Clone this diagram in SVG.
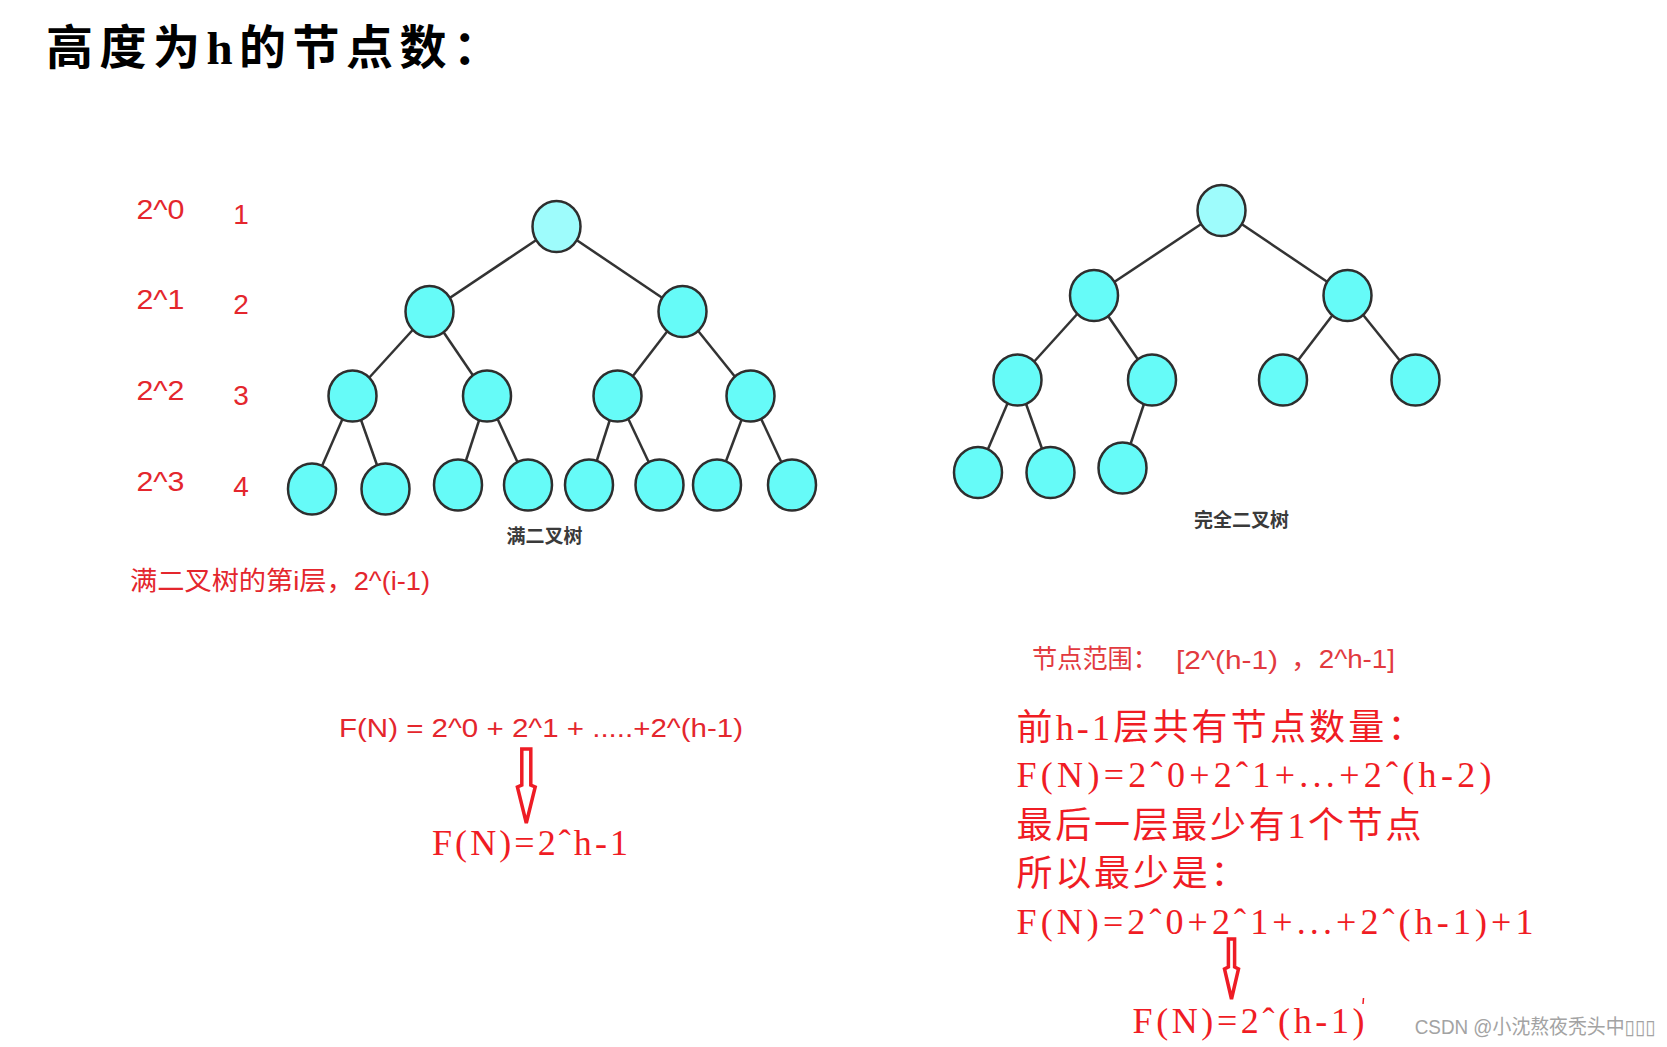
<svg xmlns="http://www.w3.org/2000/svg" width="1667" height="1047" viewBox="0 0 1667 1047">
<style>
.edge{stroke:#333;stroke-width:2.5;fill:none}
.nd{stroke:#2e2e2e;stroke-width:2.5;fill:#66fbf8}
.rt{stroke:#2e2e2e;stroke-width:2.5;fill:#9efcfc}
.lbl{font-family:"Liberation Sans","Noto Sans CJK SC",sans-serif;fill:#e4262d}
.ser{font-family:"Liberation Serif","Noto Sans CJK SC",serif;fill:#f01c24;font-size:36px}
.cap{font-family:"Noto Sans CJK SC",sans-serif;font-weight:bold;font-size:19px;fill:#3a3a3a;text-anchor:middle}
.arr{fill:#fff;stroke:#ee1c25;stroke-width:3.5;stroke-linejoin:miter}
.rng{font-family:"Liberation Sans","Noto Sans CJK SC",sans-serif;fill:#e23a3f;font-size:26px}
</style>
<rect width="1667" height="1047" fill="#fff"/>

<text id="title" x="46" y="64" font-family="Liberation Serif, Noto Sans CJK SC, serif" font-weight="bold" font-size="47" fill="#000" textLength="454" lengthAdjust="spacing">高度为h的节点数：</text>

<!-- level labels -->
<g id="levels" class="lbl" font-size="28">
<text x="136.5" y="219" textLength="48" lengthAdjust="spacingAndGlyphs">2^0</text>
<text x="241" y="224" text-anchor="middle">1</text>
<text x="136.5" y="309" textLength="48" lengthAdjust="spacingAndGlyphs">2^1</text>
<text x="241" y="314" text-anchor="middle">2</text>
<text x="136.5" y="400" textLength="48" lengthAdjust="spacingAndGlyphs">2^2</text>
<text x="241" y="405" text-anchor="middle">3</text>
<text x="136.5" y="491" textLength="48" lengthAdjust="spacingAndGlyphs">2^3</text>
<text x="241" y="496" text-anchor="middle">4</text>
</g>

<!-- connectors -->
<g id="connectors" class="edge">
<line x1="556.5" y1="226.5" x2="429.5" y2="311.5"/>
<line x1="556.5" y1="226.5" x2="682.5" y2="311.5"/>
<line x1="429.5" y1="311.5" x2="352.5" y2="396"/>
<line x1="429.5" y1="311.5" x2="487" y2="396"/>
<line x1="682.5" y1="311.5" x2="617.5" y2="396"/>
<line x1="682.5" y1="311.5" x2="750.5" y2="396"/>
<line x1="352.5" y1="396" x2="312" y2="489"/>
<line x1="352.5" y1="396" x2="385.5" y2="489"/>
<line x1="487" y1="396" x2="458" y2="485"/>
<line x1="487" y1="396" x2="528" y2="485"/>
<line x1="617.5" y1="396" x2="589" y2="485"/>
<line x1="617.5" y1="396" x2="659.5" y2="485"/>
<line x1="750.5" y1="396" x2="717" y2="485"/>
<line x1="750.5" y1="396" x2="792" y2="485"/>

<line x1="1221.5" y1="210.5" x2="1094" y2="295.5"/>
<line x1="1221.5" y1="210.5" x2="1347.5" y2="295.5"/>
<line x1="1094" y1="295.5" x2="1017.5" y2="380"/>
<line x1="1094" y1="295.5" x2="1152" y2="380"/>
<line x1="1347.5" y1="295.5" x2="1283" y2="380"/>
<line x1="1347.5" y1="295.5" x2="1415.5" y2="380"/>
<line x1="1017.5" y1="380" x2="978" y2="472.5"/>
<line x1="1017.5" y1="380" x2="1050.5" y2="472.5"/>
<line x1="1152" y1="380" x2="1122.5" y2="468"/>
</g>

<!-- full binary tree nodes -->
<g id="full-root"><ellipse class="rt" cx="556.5" cy="226.5" rx="24" ry="25.5"/></g>
<g id="full-l2a"><ellipse class="nd" cx="429.5" cy="311.5" rx="24" ry="25.5"/></g>
<g id="full-l2b"><ellipse class="nd" cx="682.5" cy="311.5" rx="24" ry="25.5"/></g>
<g id="full-l3a"><ellipse class="nd" cx="352.5" cy="396" rx="24" ry="25.5"/></g>
<g id="full-l3b"><ellipse class="nd" cx="487" cy="396" rx="24" ry="25.5"/></g>
<g id="full-l3c"><ellipse class="nd" cx="617.5" cy="396" rx="24" ry="25.5"/></g>
<g id="full-l3d"><ellipse class="nd" cx="750.5" cy="396" rx="24" ry="25.5"/></g>
<g id="full-l4a"><ellipse class="nd" cx="312" cy="489" rx="24" ry="25.5"/></g>
<g id="full-l4b"><ellipse class="nd" cx="385.5" cy="489" rx="24" ry="25.5"/></g>
<g id="full-l4c"><ellipse class="nd" cx="458" cy="485" rx="24" ry="25.5"/></g>
<g id="full-l4d"><ellipse class="nd" cx="528" cy="485" rx="24" ry="25.5"/></g>
<g id="full-l4e"><ellipse class="nd" cx="589" cy="485" rx="24" ry="25.5"/></g>
<g id="full-l4f"><ellipse class="nd" cx="659.5" cy="485" rx="24" ry="25.5"/></g>
<g id="full-l4g"><ellipse class="nd" cx="717" cy="485" rx="24" ry="25.5"/></g>
<g id="full-l4h"><ellipse class="nd" cx="792" cy="485" rx="24" ry="25.5"/></g>
<text id="full-caption" class="cap" x="544.5" y="543">满二叉树</text>

<!-- complete binary tree nodes -->
<g id="comp-root"><ellipse class="rt" cx="1221.5" cy="210.5" rx="24" ry="25.5"/></g>
<g id="comp-l2a"><ellipse class="nd" cx="1094" cy="295.5" rx="24" ry="25.5"/></g>
<g id="comp-l2b"><ellipse class="nd" cx="1347.5" cy="295.5" rx="24" ry="25.5"/></g>
<g id="comp-l3a"><ellipse class="nd" cx="1017.5" cy="380" rx="24" ry="25.5"/></g>
<g id="comp-l3b"><ellipse class="nd" cx="1152" cy="380" rx="24" ry="25.5"/></g>
<g id="comp-l3c"><ellipse class="nd" cx="1283" cy="380" rx="24" ry="25.5"/></g>
<g id="comp-l3d"><ellipse class="nd" cx="1415.5" cy="380" rx="24" ry="25.5"/></g>
<g id="comp-l4a"><ellipse class="nd" cx="978" cy="472.5" rx="24" ry="25.5"/></g>
<g id="comp-l4b"><ellipse class="nd" cx="1050.5" cy="472.5" rx="24" ry="25.5"/></g>
<g id="comp-l4c"><ellipse class="nd" cx="1122.5" cy="468" rx="24" ry="25.5"/></g>
<text id="comp-caption" class="cap" x="1241.5" y="526.5">完全二叉树</text>

<!-- left notes -->
<text class="lbl" x="130" y="590" font-size="26" textLength="300" lengthAdjust="spacingAndGlyphs">满二叉树的第i层，2^(i-1)</text>
<text class="lbl" x="339" y="737" font-size="26" textLength="404" lengthAdjust="spacingAndGlyphs">F(N) = 2^0 + 2^1 + .....+2^(h-1)</text>
<polygon class="arr" points="521.8,749 530.8,749 530.8,785 535.2,787 526.3,823 517.4,787 521.8,785"/>
<text class="ser" x="432" y="855" textLength="196" lengthAdjust="spacing">F(N)=2ˆh-1</text>

<!-- right notes -->
<text class="rng" x="1032" y="668" textLength="126" lengthAdjust="spacingAndGlyphs">节点范围：</text>
<text class="rng" x="1176" y="669" textLength="102" lengthAdjust="spacingAndGlyphs">[2^(h-1)</text>
<text class="rng" x="1291" y="668" textLength="104" lengthAdjust="spacingAndGlyphs">，2^h-1]</text>
<text class="ser" x="1016.5" y="740" textLength="407" lengthAdjust="spacing">前h-1层共有节点数量：</text>
<text class="ser" x="1016.5" y="787" textLength="475" lengthAdjust="spacing">F(N)=2ˆ0+2ˆ1+...+2ˆ(h-2)</text>
<text class="ser" x="1016.5" y="838" textLength="405" lengthAdjust="spacing">最后一层最少有1个节点</text>
<text class="ser" x="1016.5" y="886" textLength="230" lengthAdjust="spacing">所以最少是：</text>
<text class="ser" x="1016.5" y="934" textLength="517" lengthAdjust="spacing">F(N)=2ˆ0+2ˆ1+...+2ˆ(h-1)+1</text>
<polygon class="arr" points="1228.4,939 1234.6,939 1234.6,967 1238.5,969 1231.5,999 1224.5,969 1228.4,967"/>
<text class="ser" x="1132.5" y="1033" textLength="232" lengthAdjust="spacing">F(N)=2ˆ(h-1)</text>
<line x1="1363.5" y1="998" x2="1363" y2="1004" stroke="#f01c24" stroke-width="1.5"/>

<!-- watermark -->
<text x="1414.7" y="1034" font-family="Liberation Sans, Noto Sans CJK SC, DejaVu Sans, sans-serif" font-size="20" fill="#a3a3a3" textLength="241" lengthAdjust="spacingAndGlyphs">CSDN @小沈熬夜秃头中▯▯▯</text>
</svg>
